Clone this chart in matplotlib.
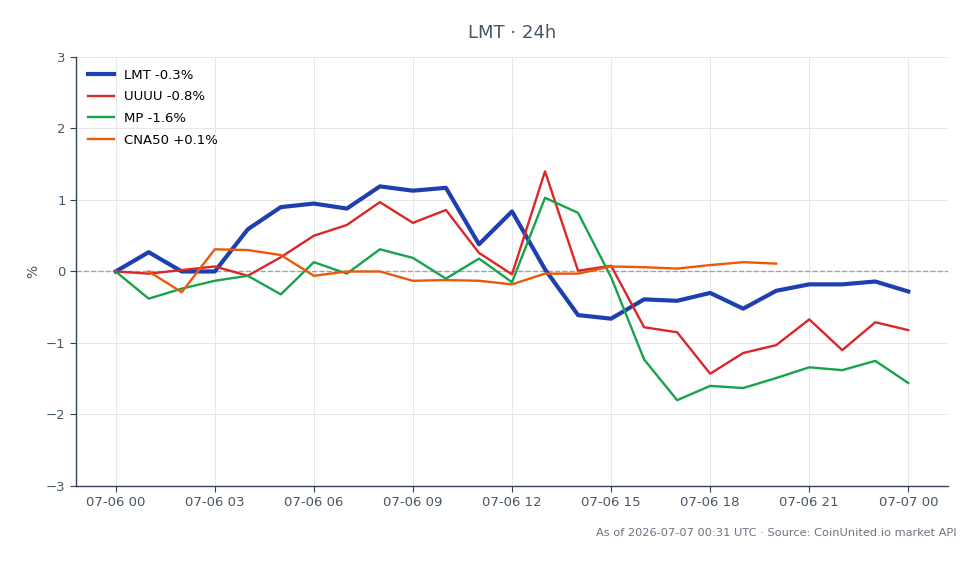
import matplotlib

matplotlib.use("Agg")

import matplotlib.dates as mdates
import matplotlib.pyplot as plt
import numpy as np
import pandas as pd

hours = pd.date_range("2026-07-06 00:00", "2026-07-07 00:00", freq="h")

lmt = [0.0, 0.27, 0.0, 0.0, 0.59, 0.90, 0.95, 0.88, 1.19, 1.13, 1.17, 0.38, 0.84,
       0.03, -0.61, -0.66, -0.39, -0.41, -0.30, -0.52, -0.27, -0.18, -0.18, -0.14, -0.28]
uuuu = [0.0, -0.03, 0.02, 0.07, -0.06, 0.20, 0.50, 0.65, 0.97, 0.68, 0.86, 0.26, -0.04,
        1.40, 0.01, 0.08, -0.78, -0.85, -1.43, -1.14, -1.03, -0.67, -1.10, -0.71, -0.82]
mp = [0.0, -0.38, -0.24, -0.13, -0.06, -0.32, 0.13, -0.03, 0.31, 0.19, -0.10, 0.18, -0.15,
      1.03, 0.82, -0.08, -1.23, -1.80, -1.60, -1.63, -1.49, -1.34, -1.38, -1.25, -1.56]
cna50 = [np.nan, 0.0, -0.29, 0.31, 0.30, 0.23, -0.06, 0.0, 0.0, -0.13, -0.12, -0.13, -0.18,
         -0.03, -0.03, 0.07, 0.06, 0.04, 0.09, 0.13, 0.11, np.nan, np.nan, np.nan, np.nan]

series = [
    ("LMT -0.3%", lmt, "#1e40af", 3.0),
    ("UUUU -0.8%", uuuu, "#dc2626", 1.7),
    ("MP -1.6%", mp, "#16a34a", 1.7),
    ("CNA50 +0.1%", cna50, "#ea580c", 1.7),
]

text_color = "#475569"

fig = plt.figure(figsize=(9.8, 5.64), dpi=100)
ax = fig.add_axes([0.0776, 0.1383, 0.8897, 0.7607])

for label, values, color, width in series:
    ax.plot(hours, values, color=color, linewidth=width, label=label, zorder=3)

ax.axhline(0, color="#94a3b8", linestyle="--", linewidth=1.0, zorder=2)

ax.set_ylim(-3, 3)
ax.set_yticks([-3, -2, -1, 0, 1, 2, 3])
ax.set_ylabel("%", color=text_color, fontsize=10)
ax.xaxis.set_major_locator(mdates.HourLocator(byhour=range(0, 24, 3)))
ax.xaxis.set_major_formatter(mdates.DateFormatter("%m-%d %H"))

ax.grid(color="#e5e7eb", linewidth=0.7, zorder=0)
for side in ("top", "right"):
    ax.spines[side].set_visible(False)
for side in ("left", "bottom"):
    ax.spines[side].set_color("#334155")
    ax.spines[side].set_linewidth(1.0)
ax.tick_params(colors=text_color, labelsize=9.5, length=4)
ax.tick_params(color="#334155")

ax.set_title("LMT · 24h", color="#475569", fontsize=13, pad=14)
ax.legend(loc="upper left", frameon=False, fontsize=9.5, handlelength=2.0,
          handletextpad=0.7, labelspacing=0.65)

fig.text(0.976, 0.055, "As of 2026-07-07 00:31 UTC · Source: CoinUnited.io market API",
         ha="right", va="center", fontsize=8.2, color="#6b7280")

fig.savefig("out.png", dpi=100)
